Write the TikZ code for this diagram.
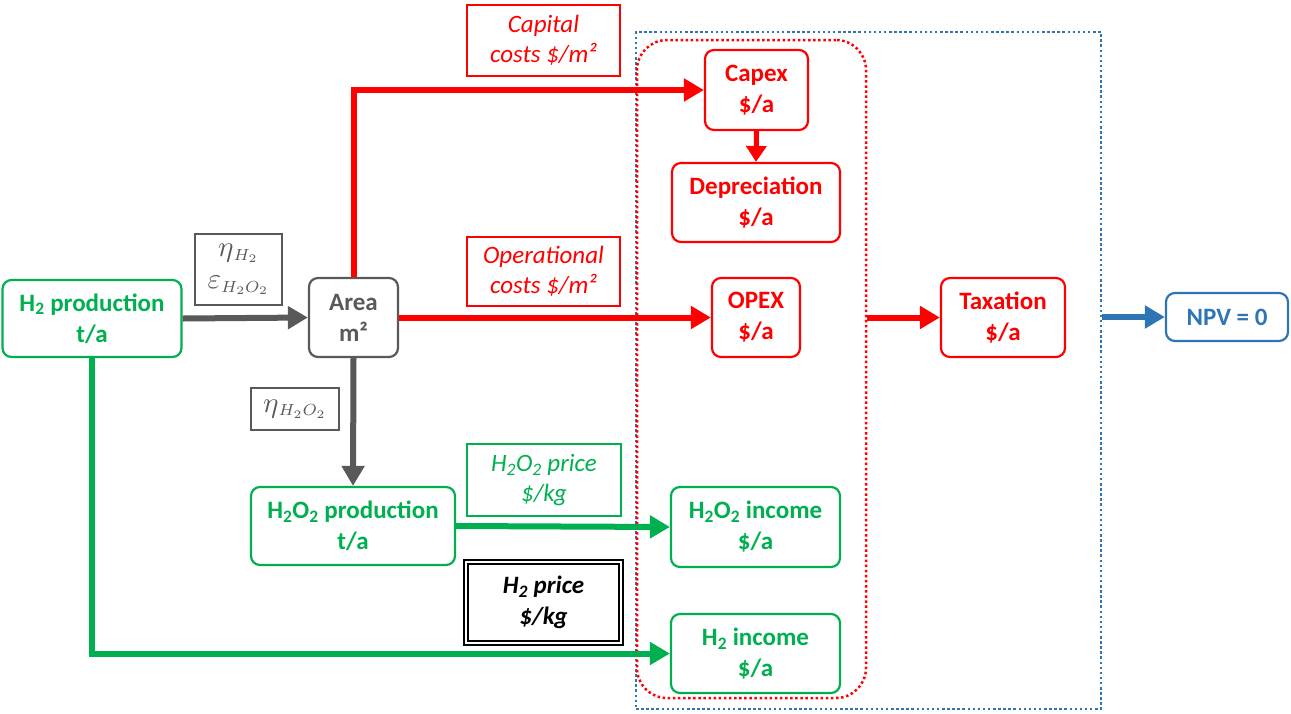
\documentclass[tikz,border=0pt]{standalone}
\usepackage{fontspec}
\setmainfont{Carlito}
\usepackage{graphicx}
\usetikzlibrary{arrows.meta}
\definecolor{cred}{HTML}{FF0000}
\definecolor{cgreen}{HTML}{00B050}
\definecolor{cgray}{HTML}{595959}
\definecolor{cblue}{HTML}{2E75B6}
\newcommand{\mylabmath}[2]{\scalebox{2.9}{$#1$}\scalebox{2.3}{$_{#2}$}}
\begin{document}
\begin{tikzpicture}[x=1pt,y=-1pt,
 box/.style={draw, rounded corners=9pt, line width=2.2pt, align=center, inner sep=0pt, font=\fontsize{25}{31}\selectfont\bfseries},
 lbl/.style={draw, line width=1.3pt, align=center, inner sep=0pt, font=\fontsize{25}{30}\selectfont\itshape},
 mlbl/.style={draw, line width=1.3pt, align=center, inner sep=0pt, font=\fontsize{10}{30}\selectfont},
 flow/.style={line width=6pt, line join=miter, -{Triangle[length=20pt,width=22pt]}},
 sflow/.style={line width=5pt, -{Triangle[length=16pt,width=20pt]}},
 group/.style={line width=2.5pt, dash pattern=on 2.5pt off 2.6pt, inner sep=0pt},
]
\useasboundingbox (0,0) rectangle (1291,713);
% groups
\node[group, draw=cblue, minimum width=465pt, minimum height=677pt] (blueg) at (868.5,370.5) {};
\node[group, draw=cred, rounded corners=30pt, minimum width=229pt, minimum height=658pt] (redg) at (751.5,369) {};
% boxes
\node[box, draw=cgreen, text=cgreen, minimum width=179pt, minimum height=77pt] (h2p) at (92,318.5) {H\textsubscript{2} production\\t/a};
\node[box, draw=cgray, text=cgray, minimum width=89pt, minimum height=79pt] (area) at (353.5,317.5) {Area\\m²};
\node[box, draw=cred, text=cred, minimum width=103pt, minimum height=80pt] (capex) at (756.5,90) {Capex\\\$/a};
\node[box, draw=cred, text=cred, minimum width=168pt, minimum height=79pt] (dep) at (756,202.5) {Depreciation\\\$/a};
\node[box, draw=cred, text=cred, minimum width=88pt, minimum height=79pt] (opex) at (756,317.5) {OPEX\\\$/a};
\node[box, draw=cred, text=cred, minimum width=124pt, minimum height=79pt] (tax) at (1003,317.5) {Taxation\\\$/a};
\node[box, draw=cblue, text=cblue, minimum width=122pt, minimum height=48pt] (npv) at (1227,317) {NPV = 0};
\node[box, draw=cgreen, text=cgreen, minimum width=204pt, minimum height=78pt] (h2o2p) at (353,526) {H\textsubscript{2}O\textsubscript{2} production\\t/a};
\node[box, draw=cgreen, text=cgreen, minimum width=169pt, minimum height=80pt] (h2o2inc) at (755.5,527) {H\textsubscript{2}O\textsubscript{2} income\\\$/a};
\node[box, draw=cgreen, text=cgreen, minimum width=169pt, minimum height=79pt] (h2inc) at (755.5,653.5) {H\textsubscript{2} income\\\$/a};
% labels
\node[mlbl, draw=cgray, text=cgray, minimum width=87pt, minimum height=71pt] (eff) at (238.5,269.5) {\mylabmath{\eta}{H_2}\\[2pt]\mylabmath{\varepsilon}{H_2O_2}};
\node[mlbl, draw=cgray, text=cgray, minimum width=88pt, minimum height=42pt] (eff2) at (295,409) {\mylabmath{\eta}{H_2O_2}};
\node[lbl, draw=cred, text=cred, minimum width=153pt, minimum height=71pt] (capc) at (543.5,40.5) {Capital\\costs \$/m²};
\node[lbl, draw=cred, text=cred, minimum width=153pt, minimum height=69pt] (opc) at (543.5,271.5) {Operational\\costs \$/m²};
\node[lbl, draw=cgreen, text=cgreen, minimum width=154pt, minimum height=72pt] (h2o2pr) at (544,480) {H\textsubscript{2}O\textsubscript{2} price\\\$/kg};
\node[lbl, draw=black, double=white, double distance=2pt, line width=1.6pt, text=black, font=\fontsize{25}{31}\selectfont\bfseries\itshape, minimum width=155pt, minimum height=81pt] (h2pr) at (543.5,602.5) {H\textsubscript{2} price\\\$/kg};
% connectors
\draw[flow, cgray] (h2p.east) -- (area.west);
\draw[flow, cgray] (area.south) -- (h2o2p.north);
\draw[flow, cred] (area.north) |- (capex.west);
\draw[flow, cred] (area.east) -- (opex.west);
\draw[sflow, cred] (capex.south) -- (dep.north);
\draw[flow, cred] (redg.east |- tax.west) -- (tax.west);
\draw[flow, cblue] (blueg.east |- npv.west) -- (npv.west);
\draw[flow, cgreen] (h2o2p.east) -- (h2o2inc.west);
\draw[flow, cgreen] (h2p.south) |- (h2inc.west);
\end{tikzpicture}
\end{document}
